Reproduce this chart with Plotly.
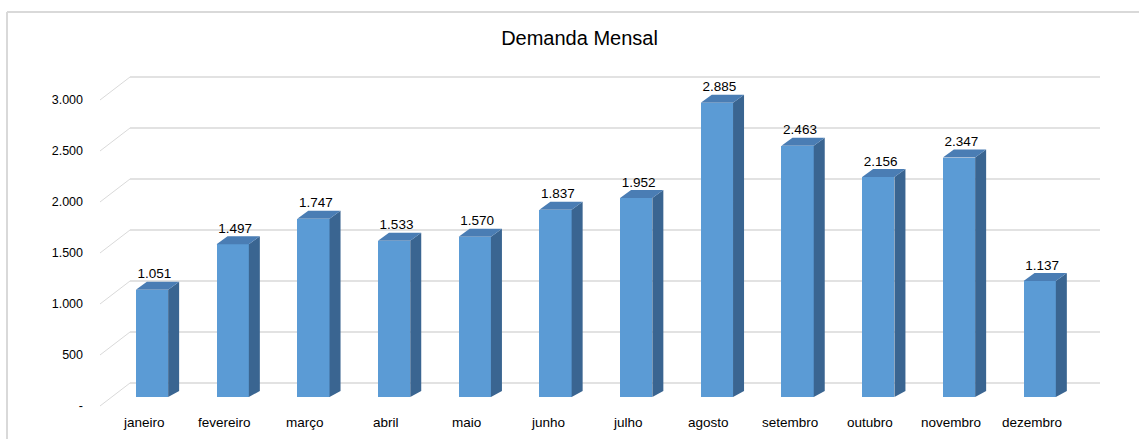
import plotly.graph_objects as go

# ---- data ----
months = ["janeiro", "fevereiro", "março", "abril", "maio", "junho",
          "julho", "agosto", "setembro", "outubro", "novembro", "dezembro"]
demanda = [1051, 1497, 1747, 1533, 1570, 1837, 1952, 2885, 2463, 2156, 2347, 1137]
y_ticks = [0, 500, 1000, 1500, 2000, 2500, 3000]
y_ticktext = ["-", "500", "1.000", "1.500", "2.000", "2.500", "3.000"]

def fmt(v):
    return f"{v:,}".replace(",", ".")

# ---- geometry (3D look) ----
L, R, T, B = 100, 1100, 40, 420          # plot area in pixels
PX_X = 80.7                               # px per category
PX_Y = 0.102                              # px per unit
x0 = -52 / PX_X
x1 = x0 + (R - L) / PX_X
y0 = (397 - B) / PX_Y
y1 = (397 - T) / PX_Y

bw = 0.2                                  # half bar width (category units)
ddx = 11 / PX_X                           # depth offset x
ddy = 8 / PX_Y                            # depth offset y
wall_dy = 14 / PX_Y                       # back wall vertical offset
floor_dy = -9 / PX_Y                      # front of floor offset
wall_left = (130 - 152) / PX_X

FRONT = "#5B9BD5"
SIDE = "#3A6591"
TOP = "#4A7DB4"
GRID = "#D9D9D9"

xs = list(range(len(months)))

fig = go.Figure()

# front faces
fig.add_trace(go.Bar(x=xs, y=demanda, width=2 * bw, marker=dict(color=FRONT, line=dict(width=0)),
                     hoverinfo="skip", showlegend=False))

# side faces
sx, sy = [], []
for i, v in zip(xs, demanda):
    sx += [i + bw, i + bw + ddx, i + bw + ddx, i + bw, None]
    sy += [0, ddy * 0.75, v + ddy, v, None]
fig.add_trace(go.Scatter(x=sx, y=sy, mode="lines", fill="toself", fillcolor=SIDE,
                         line=dict(width=0, color=SIDE), hoverinfo="skip", showlegend=False))

# top faces
tx, ty = [], []
for i, v in zip(xs, demanda):
    tx += [i - bw, i + bw, i + bw + ddx, i - bw + ddx, None]
    ty += [v, v, v + ddy, v + ddy, None]
fig.add_trace(go.Scatter(x=tx, y=ty, mode="lines", fill="toself", fillcolor=TOP,
                         line=dict(width=0, color=TOP), hoverinfo="skip", showlegend=False))

# data labels
fig.add_trace(go.Scatter(x=[i + 0.03 for i in xs], y=[v + ddy for v in demanda], mode="text",
                         text=[fmt(v) for v in demanda], textposition="top center",
                         textfont=dict(family="Liberation Sans", size=13.5, color="#000000"),
                         hoverinfo="skip", showlegend=False, cliponaxis=False))

# back wall gridlines and floor diagonals
shapes = []
for t in y_ticks:
    shapes.append(dict(type="line", xref="x", yref="y", x0=wall_left, x1=x1,
                       y0=t + wall_dy, y1=t + wall_dy, line=dict(color=GRID, width=1.5), layer="below"))
    shapes.append(dict(type="line", xref="x", yref="y", x0=x0, x1=wall_left,
                       y0=t + floor_dy, y1=t + wall_dy, line=dict(color=GRID, width=1), layer="below"))

# outer chart frame (top and left edges visible)
W = R - L
H = B - T
px2xp = lambda p: (p - L) / W
px2yp = lambda p: (B - p) / H
shapes.append(dict(type="line", xref="paper", yref="paper", x0=px2xp(7), x1=px2xp(1139),
                   y0=px2yp(12), y1=px2yp(12), line=dict(color=GRID, width=2)))
shapes.append(dict(type="line", xref="paper", yref="paper", x0=px2xp(7), x1=px2xp(7),
                   y0=px2yp(12), y1=px2yp(439), line=dict(color=GRID, width=2)))

# category labels
annotations = []
for i, m in zip(xs, months):
    annotations.append(dict(x=i, y=px2yp(422), xref="x", yref="paper", text=m, showarrow=False,
                            xanchor="center", yanchor="middle", xshift=-8,
                            font=dict(family="Liberation Sans", size=13.5, color="#000000")))

fig.update_layout(
    width=1139, height=439,
    margin=dict(l=L, r=1139 - R, t=T, b=439 - B),
    paper_bgcolor="white", plot_bgcolor="white",
    title=dict(text="Demanda Mensal", x=579.5 / 1139, xanchor="center",
               y=1 - 38 / 439, yanchor="middle",
               font=dict(family="Liberation Sans", size=20, color="#000000")),
    xaxis=dict(range=[x0, x1], showgrid=False, zeroline=False, showticklabels=False,
               showline=False, ticks=""),
    yaxis=dict(range=[y0, y1], showgrid=False, zeroline=False, showline=False, ticks="",
               tickvals=[t + floor_dy for t in y_ticks], ticktext=y_ticktext,
               tickfont=dict(family="Liberation Sans", size=12.5, color="#000000"),
               ticklabelstandoff=16),
    shapes=shapes,
    annotations=annotations,
    bargap=0,
)

fig.write_html("out.html", config={"displayModeBar": False},
               post_script="document.body.style.margin='0';")
